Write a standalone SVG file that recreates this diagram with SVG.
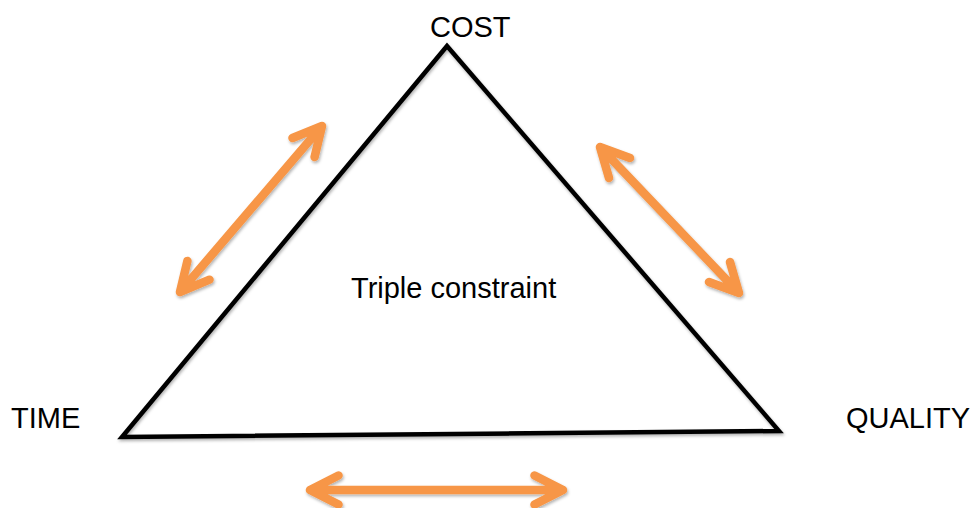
<svg xmlns="http://www.w3.org/2000/svg" width="974" height="508" viewBox="0 0 974 508">
<defs>
<filter id="sh" x="-20%" y="-20%" width="140%" height="140%">
<feDropShadow dx="1" dy="2" stdDeviation="1.5" flood-color="#000" flood-opacity="0.3"/>
</filter>
<style>
.lbl{font-family:"Liberation Sans",Arial,sans-serif;font-size:29px;fill:#000}
.arr{fill:none;stroke:#F79646;stroke-width:8.5;stroke-linecap:round;stroke-linejoin:round}
.tri{fill:none;stroke:#000;stroke-width:4.5;stroke-linejoin:miter}
</style>
</defs>
<rect width="974" height="508" fill="#fff"/>
<g id="triangle" filter="url(#sh)">
<polygon class="tri" points="447,46 122,437 779,431"/>
</g>
<g id="cost"><text class="lbl" x="430" y="37">COST</text></g>
<g id="time"><text class="lbl" x="11" y="428">TIME</text></g>
<g id="quality"><text class="lbl" x="846" y="428">QUALITY</text></g>
<g id="center"><text class="lbl" x="351" y="298">Triple constraint</text></g>
<g id="connectors" filter="url(#sh)">
<path class="arr" d="M180,292 L322,126 M292.5,138 L322,126 L314.6,157 M209.5,279.7 L180,292 L187.4,260.9"/>
<path class="arr" d="M600,147 L739,293 M630,158 L600,147 L609,178 M709,282 L739,293 L730,262"/>
<path class="arr" d="M310,490 L563,490 M338.5,475.5 L310,490 L338.5,504.5 M534.5,475.5 L563,490 L534.5,504.5"/>
</g>
</svg>
